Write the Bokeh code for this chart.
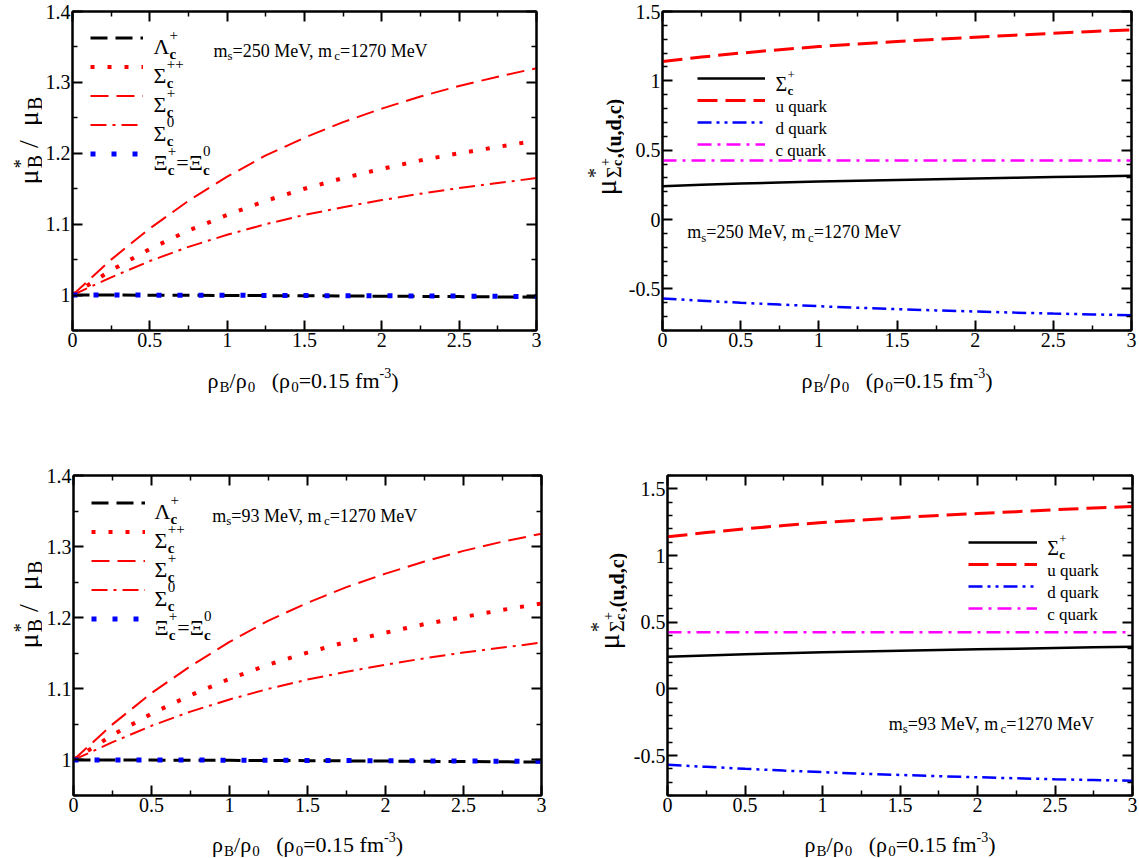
import math
from bokeh.plotting import figure
from bokeh.models import Label, Legend, LegendItem, FixedTicker, LinearAxis, Range1d
from bokeh.core.properties import value
from bokeh.layouts import column, row
from bokeh.embed import file_html
from bokeh.resources import INLINE

FONT = "Liberation Serif"

# ------------------------------------------------------------------ data
rho = [0.0, 0.25, 0.5, 0.75, 1.0, 1.25, 1.5, 1.75, 2.0, 2.25, 2.5, 2.75, 3.0]

lam_250   = [1.000, 1.0000, 0.9998, 0.9996, 0.9994, 0.9992, 0.9990, 0.9987, 0.9984, 0.9981, 0.9978, 0.9974, 0.9970]
sigpp_250 = [1.000, 1.035, 1.065, 1.091, 1.113, 1.133, 1.150, 1.165, 1.178, 1.190, 1.200, 1.209, 1.218]
sigp_250  = [1.000, 1.050, 1.094, 1.133, 1.167, 1.197, 1.222, 1.244, 1.263, 1.280, 1.295, 1.308, 1.320]
sig0_250  = [1.000, 1.025, 1.048, 1.068, 1.085, 1.100, 1.113, 1.124, 1.134, 1.143, 1.151, 1.158, 1.165]
xi_250    = [1.000, 1.0000, 0.9999, 0.9998, 0.9997, 0.9995, 0.9993, 0.9991, 0.9989, 0.9987, 0.9985, 0.9982, 0.9980]

lam_93   = [1.000, 1.0000, 0.9998, 0.9996, 0.9994, 0.9992, 0.9990, 0.9987, 0.9984, 0.9981, 0.9978, 0.9974, 0.9970]
sigpp_93 = [1.000, 1.035, 1.065, 1.091, 1.114, 1.134, 1.151, 1.166, 1.179, 1.191, 1.201, 1.211, 1.220]
sigp_93  = [1.000, 1.050, 1.094, 1.132, 1.166, 1.196, 1.221, 1.243, 1.262, 1.279, 1.294, 1.307, 1.318]
sig0_93  = [1.000, 1.025, 1.048, 1.068, 1.085, 1.100, 1.113, 1.124, 1.134, 1.143, 1.151, 1.158, 1.165]
xi_93    = [1.000, 1.0000, 0.9999, 0.9998, 0.9997, 0.9995, 0.9993, 0.9991, 0.9989, 0.9987, 0.9985, 0.9982, 0.9980]

sig_250 = [0.240, 0.250, 0.259, 0.267, 0.274, 0.280, 0.286, 0.291, 0.296, 0.301, 0.306, 0.311, 0.316]
u_250   = [1.140, 1.172, 1.200, 1.225, 1.247, 1.266, 1.284, 1.300, 1.315, 1.329, 1.343, 1.356, 1.368]
d_250   = [-0.570, -0.585, -0.600, -0.613, -0.625, -0.636, -0.646, -0.655, -0.663, -0.671, -0.678, -0.684, -0.690]
c_250   = [0.425, 0.425, 0.425, 0.425, 0.425, 0.425, 0.425, 0.425, 0.425, 0.425, 0.425, 0.425, 0.425]

sig_93 = [0.240, 0.250, 0.259, 0.267, 0.274, 0.280, 0.286, 0.291, 0.296, 0.301, 0.306, 0.311, 0.316]
u_93   = [1.140, 1.172, 1.200, 1.225, 1.247, 1.266, 1.284, 1.300, 1.315, 1.329, 1.343, 1.356, 1.368]
d_93   = [-0.570, -0.585, -0.600, -0.613, -0.625, -0.636, -0.646, -0.655, -0.663, -0.671, -0.678, -0.684, -0.690]
c_93   = [0.425, 0.425, 0.425, 0.425, 0.425, 0.425, 0.425, 0.425, 0.425, 0.425, 0.425, 0.425, 0.425]

x_ticks = [0, 0.5, 1, 1.5, 2, 2.5, 3]
x_tick_labels = ["0", "0.5", "1", "1.5", "2", "2.5", "3"]
x_minor = [0.25, 0.75, 1.25, 1.75, 2.25, 2.75]
yl_ticks = [1, 1.1, 1.2, 1.3, 1.4]
yl_tick_labels = ["1", "1.1", "1.2", "1.3", "1.4"]
yl_minor = [0.95, 1.05, 1.15, 1.25, 1.35]
yr_ticks = [-0.5, 0, 0.5, 1, 1.5]
yr_tick_labels = ["-0.5", "0", "0.5", "1", "1.5"]
yr_minor = [-0.8, -0.7, -0.6, -0.4, -0.3, -0.2, -0.1, 0.1, 0.2, 0.3, 0.4,
            0.6, 0.7, 0.8, 0.9, 1.1, 1.2, 1.3, 1.4, 1.6]

# ------------------------------------------------------------------ text helpers
WID = {" ": .25, "(": .333, ")": .333, "*": .5, "+": .564, ",": .25, "-": .333,
       ".": .25, "/": .278, "=": .564,
       "a": .444, "b": .5, "c": .444, "d": .5, "e": .444, "f": .333, "g": .5, "h": .5,
       "i": .278, "k": .5, "l": .278, "m": .778, "n": .5, "o": .5, "p": .5, "q": .5,
       "r": .333, "s": .389, "t": .278, "u": .5, "v": .5, "w": .722, "x": .5, "y": .5,
       "B": .667, "M": .889, "V": .722, "E": .611,
       "Λ": .722, "Σ": .6, "Ξ": .65, "μ": .58, "ρ": .55}
WIDB = {"b": .556, "d": .556, "u": .556, "c": .444, "a": .5}


def tw(s, size, bold=False):
    tot = 0.0
    for ch in s:
        if bold and ch in WIDB:
            tot += WIDB[ch]
        else:
            tot += WID.get(ch, .5)
    return tot * size


def lay(parts):
    out = []
    cur = 0.0
    ps = pe = 0.0
    for t, size, bold, off, st in parts:
        w = tw(t, size, bold)
        if st:
            start = ps
            end = max(pe, start + w)
        else:
            start = cur
            end = start + w
        out.append((t, start, off, size, bold))
        ps, pe, cur = start, end, end
    return out, cur


def put(fig, org, px, py, parts, angle=0.0, center=False):
    """org = page position of the figure frame's bottom-left corner;
    (px, py) = page position of the text anchor (baseline start)."""
    items, total = lay(parts)
    start = -total / 2 if center else 0.0
    bx = px - org[0]
    by = org[1] - py
    for t, pos, off, size, bold in items:
        lead = len(t) - len(t.lstrip())
        pos += tw(t[:lead], size, bold)
        t = t.strip()
        if not t:
            continue
        if angle == 0:
            x, y = bx + start + pos, by + off
        else:
            x, y = bx - off, by + start + pos
        fig.add_layout(Label(x=x, y=y, x_units="screen", y_units="screen",
                             text=t, angle=angle,
                             text_font=FONT, text_font_size=f"{size}px",
                             text_font_style="bold" if bold else "normal",
                             text_color="black", text_baseline="alphabetic",
                             text_align="left"))


def key(t):
    return int(t) if float(t).is_integer() else t


def style_axis(ax, ticks, labels, minor, show):
    ax.ticker = FixedTicker(ticks=ticks, minor_ticks=minor)
    ax.axis_line_width = 2
    ax.axis_line_color = "black"
    ax.major_tick_in = 10
    ax.major_tick_out = 0
    ax.minor_tick_in = 5
    ax.minor_tick_out = 0
    ax.major_tick_line_width = 2
    ax.minor_tick_line_width = 1.5
    ax.major_tick_line_color = "black"
    ax.minor_tick_line_color = "black"
    if show:
        ax.major_label_overrides = {key(t): l for t, l in zip(ticks, labels)}
        ax.major_label_text_font = FONT
        ax.major_label_text_font_size = "20px"
        ax.major_label_text_color = "black"
    else:
        ax.major_label_text_font_size = "0px"
        ax.major_label_text_alpha = 0
        ax.major_label_standoff = 0


def blank_fig(w, h):
    f = figure(width=w, height=h, x_range=Range1d(0, 1), y_range=Range1d(0, 1),
               x_axis_type=None, y_axis_type=None, output_backend="svg",
               toolbar_location=None, min_border=0)
    f.outline_line_color = None
    f.xgrid.visible = False
    f.ygrid.visible = False
    f.background_fill_color = "white"
    f.border_fill_color = "white"
    return f


def make_fig(bl, fw, br, bt, fh, bb, yr, yt, ylab, ymin):
    p = figure(width=bl + fw + br, height=bt + fh + bb,
               x_range=Range1d(0, 3), y_range=Range1d(*yr),
               output_backend="svg", toolbar_location=None,
               min_border_left=bl, min_border_right=br,
               min_border_top=bt, min_border_bottom=bb)
    p.xgrid.visible = False
    p.ygrid.visible = False
    p.outline_line_color = "black"
    p.outline_line_width = 2
    p.background_fill_color = "white"
    p.border_fill_color = "white"
    style_axis(p.xaxis[0], x_ticks, x_tick_labels, x_minor, True)
    p.xaxis[0].major_label_standoff = 2
    style_axis(p.yaxis[0], yt, ylab, ymin, True)
    p.yaxis[0].major_label_standoff = 2
    top = LinearAxis()
    style_axis(top, x_ticks, x_tick_labels, x_minor, False)
    p.add_layout(top, "above")
    rgt = LinearAxis()
    style_axis(rgt, yt, ylab, ymin, False)
    p.add_layout(rgt, "right")
    return p


def add_legend(p, rends, vx, vy, gw, gh):
    items = [LegendItem(label=value(" "), renderers=[r]) for r in rends]
    lg = Legend(items=items, location=(vx, vy), glyph_width=gw, glyph_height=gh,
                label_height=gh, label_width=0, label_standoff=0, padding=0,
                margin=0, spacing=0, border_line_color=None,
                background_fill_alpha=0, label_text_font_size="1px")
    p.add_layout(lg)


XT_PARTS = [("ρ", 22, False, 0, False), ("B", 15, False, -6, False),
            ("/", 22, False, 0, False), ("ρ", 22, False, 0, False),
            ("0", 15, False, -6, False), ("   (ρ", 22, False, 0, False),
            ("0", 15, False, -6, False), ("=0.15 fm", 22, False, 0, False),
            ("-3", 14, False, 8, False), (")", 22, False, 0, False)]


def ms_parts(ms):
    return [("m", 18, False, 0, False), ("s", 13, False, -5, False),
            (f"={ms} MeV, m", 18, False, 0, False),
            ("c", 13, False, -5, False), ("=1270 MeV", 18, False, 0, False)]


def quadrant(q):
    qx, qy, qw = q["qx"], q["qy"], q["qw"]
    FL, FT, fw, fh = q["FL"], q["FT"], q["fw"], q["fh"]
    wy, bb, hx = q["wy"], q["bb"], q["hx"]
    bl = FL - (qx + wy)
    bt = FT - qy
    br = qw - wy - bl - fw
    p = make_fig(bl, fw, br, bt, fh, bb, q["yr"], q["yt"], q["ylab"], q["ymin"])
    hp = bt + fh + bb
    org_p = (FL, FT + fh)
    yfig = blank_fig(wy, hp)
    org_y = (qx, qy + hp)
    xfig = blank_fig(qw, hx)
    org_x = (qx, qy + hp + hx)

    rends = []
    for ys, col, lw, dash in q["series"]:
        rends.append(p.line(rho, ys, line_color=col, line_width=lw, line_dash=dash))
    pitch = q["pitch"]
    n = len(rends)
    top = q["lg_first"] - pitch / 2
    add_legend(p, rends, q["lg_x"] - FL, (FT + fh) - (top + n * pitch), q["lg_w"], pitch)
    for i, nm in enumerate(q["names"]):
        put(p, org_p, q["lab_x"], q["lg_first"] + i * pitch + q["lab_dy"], nm)
    put(p, org_p, q["ms_x"], q["ms_y"], ms_parts(q["ms"]))
    put(yfig, org_y, q["yt_x"], q["yt_y"], q["yt_parts"], angle=math.pi / 2)
    put(xfig, org_x, FL + fw / 2, q["xt_y"], XT_PARTS, center=True)
    return column(row(yfig, p), xfig)


RATIO_NAMES = [
    [("Λ", 22, False, 0, False), ("+", 15, False, 11, False), ("c", 15, True, -8, True)],
    [("Σ", 22, False, 0, False), ("++", 15, False, 11, False), ("c", 15, True, -8, True)],
    [("Σ", 22, False, 0, False), ("+", 15, False, 11, False), ("c", 15, True, -8, True)],
    [("Σ", 22, False, 0, False), ("0", 15, False, 11, False), ("c", 15, True, -8, True)],
    [("Ξ", 22, False, 0, False), ("+", 15, False, 11, False), ("c", 15, True, -8, True),
     ("=", 22, False, 0, False), ("Ξ", 22, False, 0, False),
     ("0", 15, False, 11, False), ("c", 15, True, -8, True)],
]
QUARK_NAMES = [
    [("Σ", 20, False, 0, False), ("+", 13, False, 9, False), ("c", 13, True, -6, True)],
    [("u quark", 17, False, 0, False)],
    [("d quark", 17, False, 0, False)],
    [("c quark", 17, False, 0, False)],
]
YT_RATIO = [("μ", 28, False, 0, False), ("*", 18, False, 8, False), ("B", 20, False, -6, True),
            (" /  ", 28, False, 0, False), ("μ", 28, False, 0, False), ("B", 20, False, -6, False)]
YT_QUARK = [("μ", 30, False, 0, False), ("*", 20, False, 11, False), ("Σ", 20, False, -8, True),
            ("+", 14, False, 1, False), ("c", 14, True, -12, True),
            (",(u,d,c)", 20, True, -8, False)]


def ratio_series(lam, sigpp, sigp, sig0, xi):
    return [(lam, "black", 3, "17 8"), (sigpp, "#ff0000", 4, "4 13"),
            (sigp, "#ff0000", 2, "18 8"), (sig0, "#ff0000", 2, "16 6 3 6"),
            (xi, "#0000ff", 5, "5 16")]


def quark_series(sig, u, d, c):
    return [(sig, "black", 2.5, "solid"), (u, "#ff0000", 3, "20 8"),
            (d, "#0000ff", 2.5, "14 5 3 5 3 5"), (c, "#ff00ff", 2.5, "14 6 3 6")]


TL = dict(qx=0, qy=0, qw=570, FL=69, FT=11, fw=467, fh=319, wy=42, bb=27, hx=91,
          yr=(0.95, 1.4), yt=yl_ticks, ylab=yl_tick_labels, ymin=yl_minor,
          series=ratio_series(lam_250, sigpp_250, sigp_250, sig0_250, xi_250),
          pitch=29, lg_first=37.5, lg_x=87, lg_w=53, names=RATIO_NAMES, lab_x=150, lab_dy=8,
          ms=250, ms_x=210, ms_y=50, yt_x=28, yt_y=211, yt_parts=YT_RATIO, xt_y=380)
TR = dict(qx=570, qy=0, qw=569, FL=662, FT=11, fw=469, fh=319, wy=54, bb=27, hx=91,
          yr=(-0.8, 1.5), yt=yr_ticks, ylab=yr_tick_labels, ymin=yr_minor,
          series=quark_series(sig_250, u_250, d_250, c_250),
          pitch=22, lg_first=77.6, lg_x=697, lg_w=68, names=QUARK_NAMES, lab_x=775, lab_dy=6,
          ms=250, ms_x=686.7, ms_y=231.7, yt_x=605, yt_y=222, yt_parts=YT_QUARK, xt_y=380)
BL = dict(qx=0, qy=448, qw=570, FL=73, FT=475, fw=468, fh=320, wy=42, bb=27, hx=36,
          yr=(0.95, 1.4), yt=yl_ticks, ylab=yl_tick_labels, ymin=yl_minor,
          series=ratio_series(lam_93, sigpp_93, sigp_93, sig0_93, xi_93),
          pitch=29, lg_first=502.5, lg_x=91, lg_w=54, names=RATIO_NAMES, lab_x=154, lab_dy=8,
          ms=93, ms_x=211.7, ms_y=515, yt_x=28, yt_y=675, yt_parts=YT_RATIO, xt_y=844)
BR = dict(qx=570, qy=448, qw=569, FL=667, FT=475, fw=465, fh=320, wy=57, bb=27, hx=36,
          yr=(-0.8, 1.6), yt=yr_ticks, ylab=yr_tick_labels, ymin=yr_minor,
          series=quark_series(sig_93, u_93, d_93, c_93),
          pitch=22, lg_first=541.5, lg_x=968, lg_w=69, names=QUARK_NAMES, lab_x=1046.7, lab_dy=6,
          ms=93, ms_x=888.3, ms_y=723.3, yt_x=608, yt_y=676, yt_parts=YT_QUARK, xt_y=844)

layout = column(row(quadrant(TL), quadrant(TR)), row(quadrant(BL), quadrant(BR)))
open("out.html", "w").write(file_html(layout, INLINE))
